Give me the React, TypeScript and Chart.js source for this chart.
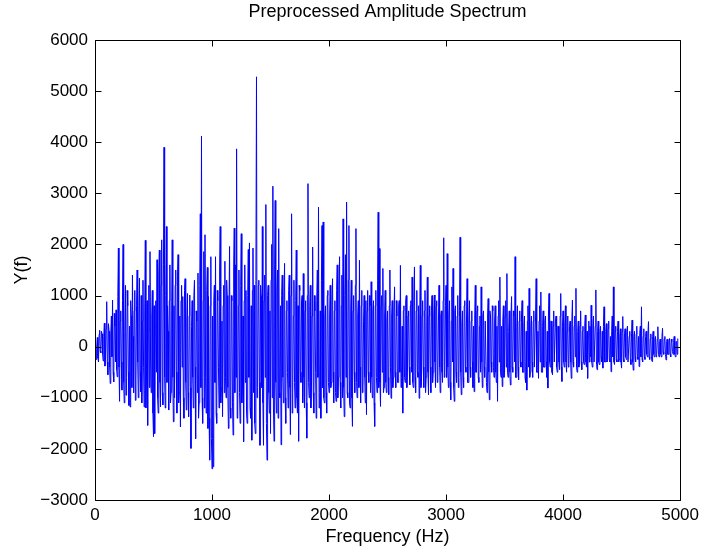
import React, { useEffect, useRef } from "react";
import { Chart, registerables } from "chart.js";

Chart.register(...registerables);

// Frequency grid spacing (Hz) for the amplitude samples below
const FREQ_STEP = 5;

// Amplitude spectrum samples, one row per 200 Hz
const amplitude: number[] = [
  -160, 120, -250, -60, 180, -220, -300, 240, 320, -90, -120, 300, 250, -150, -280, 200, 460, -380, -200, 350, 880, -300, -550, 450, 300, -400, -720, 250, 600, -200, 910, -500, -690, 650, 400, -300, 720, -450, -590, 980,
  1930, -400, -1070, 500, 700, -300, -850, 900, 2000, -700, -1100, 300, 1200, -950, -600, 1100, 800, -500, -1150, 400, -1180, 900, 600, -800, 1400, 200, -900, 700, 1100, -1050, -650, 800, 1500, -300, -1000, 600, 1340, -500, -880, 1000,
  -1100, 500, 1300, -400, -1180, 700, 2080, -1200, -600, 900, -1540, 300, 1200, -800, 1860, -300, -900, 600, 1100, -1300, -1760, 800, -1700, 400, 900, -500, 1700, -1000, -1300, 1400, 1890, -700, -1180, 1200, 2090, -900, -1140, 1600, 3900, -600,
  -1200, 1000, 2350, -700, 800, 300, -1240, 900, 1600, -1100, -900, 700, 2090, -600, -1470, 800, -1000, 1200, 1500, -500, -1300, 1400, 1800, -1100, -900, 600, -1570, 900, 1200, -400, 980, -1000, -1400, 1100, 1330, -700, -1240, 500, 1040, -900,
  -1370, 600, 1010, -800, -1990, 400, 900, -600, -1200, 1000, 1300, -400, -1800, 700, 500, -900, 1440, -1400, -1100, 1200, 2600, -800, 4120, -1000, -1500, 900, 1860, -1200, 2190, -600, -1300, 1100, 1550, -1600, 980, -1400, -2220, 800, 1760, -1800,
  -2390, 600, -2350, 900, 1200, -700, 1760, -1300, -1500, 1100, 900, -400, -1200, 1500, 2350, -1100, -800, 500, -1370, 800, 1200, -900, 1670, -600, -1000, 1300, 1000, -800, -1600, 700, 1960, -1200, -1400, 1000, 900, -1100, -1730, 1500, 2320, -900,
  1600, -600, 3870, -1400, -1200, 800, 1500, -900, -1500, 1200, 2210, -1100, -800, 600, -1860, 900, 1600, -700, 1100, -1300, -1500, 1000, 1900, -600, 2030, -1200, -1400, 800, -1830, 1100, 1930, -900, 1200, -1500, -1700, 1300, 5280, -1000, -800, 1200,
  1300, -700, -1930, 1200, 1000, -800, 2350, -1100, -1930, 900, 1400, -600, 2780, -1500, -2220, 1000, 1200, -900, -1300, 700, -1700, 1300, 2000, -1000, 3140, -1200, -1850, 1600, 2860, -700, -1300, 1100, 1500, -1400, 2310, -900, -1000, 800, -1920, 1000,
  1400, -600, -1100, 900, 1630, -1000, -1500, 700, 900, -500, -1200, 1100, 1400, -800, -1720, 1000, 2600, -1300, -900, 600, 1300, -700, -1200, 900, 1890, -1000, -1300, 800, -1850, 1200, 1100, -500, -700, 900, 1000, -1100, 1430, -600, -1200, 700,
  900, -1100, -1790, 1000, 3190, -700, -1000, 800, 1200, -1200, -800, 600, 1950, -900, -1300, 1000, 700, -500, -1400, 900, 1500, -600, 2730, -1200, -900, 700, -1400, 1300, 2370, -800, 2440, -1000, -1100, 600, 800, -900, -1300, 1000, 1100, -700,
  -900, 600, 1200, -800, -700, 900, 1330, -500, -1100, 700, 900, -900, -1070, 1100, 1600, -1000, -600, 1200, 1760, -700, -1200, 800, 1400, -1000, 2500, -800, -1370, 1000, 1800, -600, 2830, -900, -1000, 1300, 2370, -1100, -1200, 700, 1300, -1000,
  -1560, 700, 1000, -500, -900, 1200, 2310, -700, -1000, 600, 900, -800, 1690, -400, -1100, 800, 1100, -900, -800, 500, 1000, -600, -1100, 900, -1330, 700, 1100, -500, -700, 1000, 800, -900, 1270, -600, -1000, 700, 900, -1100, -1560, 800,
  1100, -600, -900, 1300, 2630, -800, 1920, -700, -1170, 800, 1000, -500, 1530, -900, -800, 600, 1100, -700, -900, 500, 700, -600, -940, 800, 1500, -400, -1010, 600, 900, -800, -600, 700, 1170, -500, -800, 900, 600, -700, -700, 800,
  900, -500, 1590, -800, -600, 400, -1300, 700, 800, -600, -700, 900, 1000, -800, -500, 600, 700, -400, -750, 800, 900, -500, 1360, -700, -800, 900, 1560, -600, -900, 700, 1100, -500, -600, 800, -1010, 600, 1590, -800, -700, 600,
  900, -400, -800, 700, 1100, -900, -600, 500, 1360, -500, -940, 600, 800, -400, -900, 700, 1000, -700, -500, 600, 1010, -300, -800, 800, 900, -700, -600, 500, 1200, -400, -900, 600, 700, -500, -700, 900, 2130, -600, -500, 800,
  1200, -600, 1820, -400, -800, 600, 900, -700, -1040, 500, 1170, -300, 1530, -800, -1070, 700, 800, -500, -700, 600, 1000, -800, -600, 700, 2140, -500, -940, 400, 700, -600, -800, 800, 900, -400, -500, 600, 1330, -700, -700, 500,
  900, -400, -600, 500, 700, -300, -800, 400, -880, 600, 1200, -500, -500, 700, 800, -600, -700, 400, 600, -500, 1170, -300, -800, 600, 700, -400, -600, 500, 500, -700, -900, 600, 940, -500, -1040, 700, 600, -300, -500, 800,
  700, -400, -600, 500, 800, -500, -700, 400, -1070, 600, 900, -300, 1360, -500, -600, 400, -780, 500, 800, -600, -500, 600, 900, -400, 1430, -500, -600, 300, 700, -500, -750, 600, 980, -400, -500, 700, 600, -300, 1760, -600,
  -600, 400, 800, -400, -650, 500, 700, -300, -400, 600, 900, -500, -500, 400, 600, -600, -700, 300, -850, 500, 800, -400, 1140, -600, -500, 400, 600, -300, -600, 500, 700, -400, -400, 600, 1330, -500, -500, 300, -620, 500,
  800, -300, 1070, -500, -500, 400, 700, -400, -400, 500, 600, -300, -600, 300, -810, 600, 1040, -300, -400, 500, 500, -500, -550, 400, 700, -300, -300, 500, 600, -400, -500, 400, 400, -300, -450, 600, 1040, -400, -680, 400,
  700, -300, -400, 400, 800, -300, -500, 300, 600, -400, -350, 400, 500, -300, -620, 500, 910, -300, -400, 400, 600, -200, 1140, -400, -500, 300, 500, -400, -300, 400, 700, -300, -450, 300, 400, -300, -350, 400, 620, -300,
  -400, 300, -620, 200, 500, -300, 400, -200, 810, -300, -400, 400, 600, -300, -300, 400, 1110, -300, -450, 300, 500, -300, -350, 300, 400, -200, -300, 300, -420, 400, 780, -300, -300, 300, 450, -300, -250, 350, 500, -250,
  -300, 200, -490, 300, 600, -200, 1170, -300, -350, 300, 400, -250, -300, 300, 500, -300, -250, 200, 350, -300, -420, 300, 590, -250, -300, 250, 350, -200, -250, 300, 400, -300, -300, 200, 300, -250, -350, 250, 520, -300,
  -460, 200, 300, -200, -300, 250, 400, -200, -250, 200, -390, 250, 400, -200, 780, -250, -300, 200, 350, -200, -250, 200, 300, -150, -200, 250, 490, -200, -250, 150, 250, -200, -290, 200, 300, -150, -200, 150, 200, -200,
  -150, 150, 390, -150, -200, 100, 150, -150, -200, 200, 360, -100, -150, 150, 200, -150, -260, 100, 150, -150, -150, 100, 160, -150, -200, 150, 100, -100, -150, 120, 200, -150, -200, 100, 100, -150, 160,
];

const xTicks = [0, 1000, 2000, 3000, 4000, 5000];
const yTicks = [-3000, -2000, -1000, 0, 1000, 2000, 3000, 4000, 5000, 6000];

const TITLE = "Preprocessed Amplitude Spectrum";
const X_LABEL = "Frequency (Hz)";
const Y_LABEL = "Y(f)";

const FONT = "'Liberation Sans', Arial, Helvetica, sans-serif";

const fmt = (v: number) => (v < 0 ? "\u2212" + Math.abs(v) : String(v));

const boxPlugin = {
  id: "matlabBox",
  afterDatasetsDraw(chart: any) {
    const { ctx, chartArea } = chart;
    const { left, right, top, bottom } = chartArea;
    const xs = chart.scales.x;
    const ys = chart.scales.y;
    const tl = 6;
    ctx.save();
    ctx.strokeStyle = "#000";
    ctx.lineWidth = 1;
    ctx.beginPath();
    const L = Math.round(left) + 0.5;
    const R = Math.round(right) + 0.5;
    const T = Math.round(top) + 0.5;
    const B = Math.round(bottom) + 0.5;
    ctx.rect(L, T, R - L, B - T);
    xTicks.forEach((v) => {
      const px = Math.round(xs.getPixelForValue(v)) + 0.5;
      ctx.moveTo(px, B);
      ctx.lineTo(px, B - tl);
      ctx.moveTo(px, T);
      ctx.lineTo(px, T + tl);
    });
    yTicks.forEach((v) => {
      const py = Math.round(ys.getPixelForValue(v)) + 0.5;
      ctx.moveTo(L, py);
      ctx.lineTo(L + tl, py);
      ctx.moveTo(R, py);
      ctx.lineTo(R - tl, py);
    });
    ctx.stroke();
    // title centred over the plot area
    ctx.fillStyle = "#000";
    ctx.font = `18px ${FONT}`;
    ctx.textAlign = "center";
    ctx.textBaseline = "middle";
    ctx.fillText(TITLE, (left + right) / 2, 12);
    ctx.restore();
  },
};

export default function App() {
  const ref = useRef<HTMLCanvasElement | null>(null);

  useEffect(() => {
    if (!ref.current) return;
    const points = amplitude.map((y, i) => ({ x: i * FREQ_STEP, y }));
    const chart = new Chart(ref.current, {
      type: "line",
      data: {
        datasets: [
          {
            data: points,
            borderColor: "#0000ff",
            borderWidth: 1,
            pointRadius: 0,
            tension: 0,
            fill: false,
          },
        ],
      },
      options: {
        responsive: false,
        animation: false,
        events: [],
        layout: { padding: { left: 0, right: 23, top: 40, bottom: 0 } },
        plugins: {
          legend: { display: false },
          tooltip: { enabled: false },
          title: { display: false },
        },
        scales: {
          x: {
            type: "linear",
            min: 0,
            max: 5000,
            afterFit: (s: any) => {
              s.height = 52;
            },
            afterBuildTicks: (s: any) => {
              s.ticks = xTicks.map((v) => ({ value: v }));
            },
            grid: { display: false, drawTicks: false, tickLength: 0 },
            border: { display: false },
            ticks: {
              color: "#000",
              padding: 5,
              maxRotation: 0,
              font: { family: FONT, size: 17 },
              callback: (v: any) => fmt(Number(v)),
            },
            title: {
              display: true,
              text: X_LABEL,
              color: "#000",
              font: { family: FONT, size: 18 },
              padding: { top: 0, bottom: 4.2 },
            },
          },
          y: {
            type: "linear",
            min: -3000,
            max: 6000,
            afterFit: (s: any) => {
              s.width = 95;
            },
            afterBuildTicks: (s: any) => {
              s.ticks = yTicks.map((v) => ({ value: v }));
            },
            grid: { display: false, drawTicks: false, tickLength: 0 },
            border: { display: false },
            ticks: {
              color: "#000",
              padding: 7,
              font: { family: FONT, size: 17 },
              callback: (v: any) => fmt(Number(v)),
            },
            title: {
              display: true,
              text: Y_LABEL,
              color: "#000",
              font: { family: FONT, size: 18 },
              padding: { top: 11.2, bottom: 0 },
            },
          },
        },
      },
      plugins: [boxPlugin],
    });
    return () => chart.destroy();
  }, []);

  return (
    <div style={{ position: "fixed", left: 0, top: 0, width: 704, height: 552, background: "#fff" }}>
      <canvas ref={ref} width={704} height={552} style={{ display: "block" }} />
    </div>
  );
}
